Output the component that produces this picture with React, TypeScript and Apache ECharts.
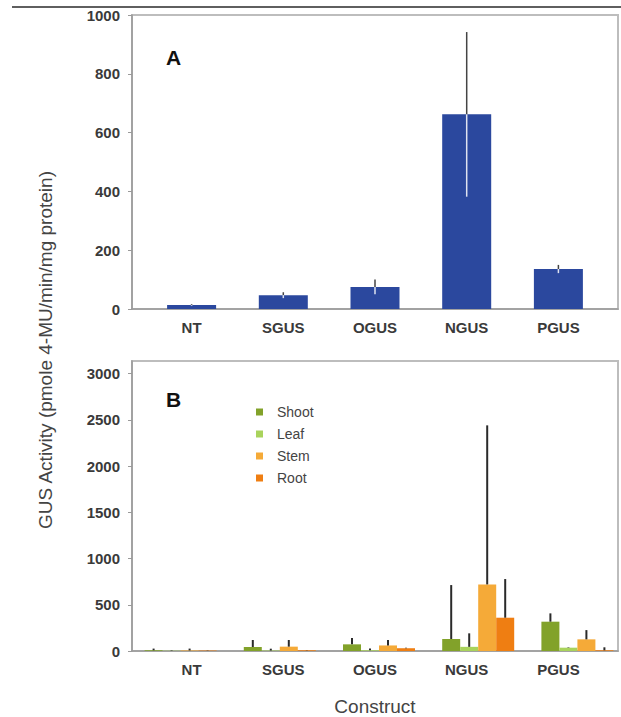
import React, { useEffect, useRef } from "react";
import * as echarts from "echarts";

const categories = ["NT", "SGUS", "OGUS", "NGUS", "PGUS"];
const totalMean = [14, 47, 75, 662, 136];
const totalErr = [3, 10, 25, 280, 14];

const tissues = ["Shoot", "Leaf", "Stem", "Root"];
const tissueColors = ["#82a22a", "#a9d35c", "#f5aa38", "#ef7e12"];
const shootMean = [8, 43, 72, 130, 317];
const shootErr = [18, 76, 68, 583, 90];
const leafMean = [3, 5, 8, 45, 36];
const leafErr = [5, 20, 18, 146, 5];
const stemMean = [6, 47, 60, 720, 126];
const stemErr = [20, 72, 60, 1720, 100];
const rootMean = [5, 8, 30, 360, 8];
const rootErr = [3, 3, 5, 418, 32];

const yTicksA = [0, 200, 400, 600, 800, 1000];
const yTicksB = [0, 500, 1000, 1500, 2000, 2500, 3000];
const catPositions = [0, 1, 2, 3, 4];

const FONT = "'Liberation Sans', Arial, sans-serif";

export default function App() {
  const ref = useRef<HTMLDivElement>(null);
  useEffect(() => {
    if (!ref.current) return;
    const chart = echarts.init(ref.current, null, { renderer: "svg" });
    const means = [shootMean, leafMean, stemMean, rootMean];
    const errs = [shootErr, leafErr, stemErr, rootErr];
    const BAR_B = 18;

    const axisLineStyle = { color: "#9a9a9a", width: 1.5 };
    const tickLabel = { fontSize: 15, fontWeight: "bold" as const, color: "#3a3a3a", fontFamily: FONT };

    const valueX = (gridIndex: number, extra: any = {}) => ({
      type: "value",
      gridIndex,
      min: -0.65,
      max: 4.65,
      axisLine: { show: true, lineStyle: axisLineStyle, onZero: false },
      axisTick: { show: false },
      splitLine: { show: false },
      axisLabel: {
        ...tickLabel,
        margin: 11,
        customValues: catPositions,
        formatter: (v: number) => categories[Math.round(v)] ?? "",
      },
      ...extra,
    });

    const valueY = (gridIndex: number, max: number, ticks: number[]) => ({
      type: "value",
      gridIndex,
      min: 0,
      max,
      axisLine: { show: true, lineStyle: axisLineStyle, onZero: false },
      axisTick: { show: true, length: 4, lineStyle: { color: "#9a9a9a" }, customValues: ticks },
      splitLine: { show: false },
      axisLabel: { ...tickLabel, margin: 12, customValues: ticks, formatter: (v: number) => String(v) },
    });

    const series: any[] = [];
    series.push({
      type: "bar",
      xAxisIndex: 0,
      yAxisIndex: 0,
      barWidth: 49,
      itemStyle: { color: "#2b489e" },
      data: totalMean.map((v, i) => [catPositions[i], v]),
      z: 2,
    });
    series.push({
      type: "custom",
      xAxisIndex: 0,
      yAxisIndex: 0,
      z: 5,
      data: totalMean.map((v, i) => [catPositions[i], v, totalErr[i]]),
      encode: { x: 0, y: 1 },
      renderItem: (params: any, api: any) => {
        const x = api.value(0);
        const m = api.value(1);
        const e = api.value(2);
        const p = api.coord([x, m]);
        const hi = api.coord([x, m + e]);
        const lo = api.coord([x, m - e]);
        return {
          type: "group",
          children: [
            { type: "line", shape: { x1: p[0], y1: hi[1], x2: p[0], y2: p[1] }, style: { stroke: "#444", lineWidth: 1.5 } },
            { type: "line", shape: { x1: p[0], y1: p[1], x2: p[0], y2: lo[1] }, style: { stroke: "#dfe3f0", lineWidth: 1.5 } },
          ],
        };
      },
    });

    tissues.forEach((name, s) => {
      series.push({
        name,
        type: "bar",
        xAxisIndex: 2,
        yAxisIndex: 2,
        barWidth: BAR_B,
        barGap: "0%",
        itemStyle: { color: tissueColors[s] },
        data: means[s],
        z: 2,
      });
    });
    tissues.forEach((name, s) => {
      series.push({
        type: "custom",
        xAxisIndex: 2,
        yAxisIndex: 2,
        z: 5,
        data: means[s].map((v, i) => [i, v, errs[s][i]]),
        encode: { x: 0, y: 1 },
        renderItem: (params: any, api: any) => {
          const x = api.value(0);
          const m = api.value(1);
          const e = api.value(2);
          const p = api.coord([x, m]);
          const hi = api.coord([x, m + e]);
          const px = p[0] + (s - 1.5) * BAR_B;
          return {
            type: "line",
            shape: { x1: px, y1: hi[1], x2: px, y2: p[1] },
            style: { stroke: "#2a2a2a", lineWidth: 2 },
          };
        },
      });
    });

    const gridBase = { outerBoundsMode: "none", containLabel: false };

    chart.setOption({
      animation: false,
      textStyle: { fontFamily: FONT },
      grid: [
        { ...gridBase, left: 132, top: 15, width: 486, height: 294, show: true, borderColor: "#bdbdbd", borderWidth: 2, backgroundColor: "transparent" },
        { ...gridBase, left: 132, top: 361, width: 486, height: 290, show: true, borderColor: "#bdbdbd", borderWidth: 2, backgroundColor: "transparent" },
        { ...gridBase, left: 131, top: 361, width: 496, height: 290 },
      ],
      xAxis: [
        valueX(0),
        valueX(1, {
          name: "Construct",
          nameLocation: "middle",
          nameGap: 46,
          nameTextStyle: { fontSize: 19, color: "#444", fontFamily: FONT },
        }),
        { type: "category", gridIndex: 2, data: categories, show: false },
      ],
      yAxis: [
        valueY(0, 1000, yTicksA),
        valueY(1, 3136, yTicksB),
        { type: "value", gridIndex: 2, min: 0, max: 3136, show: false },
      ],
      legend: {
        data: tissues,
        orient: "vertical",
        left: 256,
        top: 405,
        padding: 0,
        itemWidth: 7,
        itemHeight: 7,
        itemGap: 8,
        icon: "rect",
        selectedMode: false,
        textStyle: { fontSize: 14, color: "#444", fontFamily: FONT, lineHeight: 14, padding: [0, 0, 0, 9] },
      },
      graphic: [
        { type: "line", shape: { x1: 12, y1: 7, x2: 621, y2: 7 }, style: { stroke: "#2a2a2a", lineWidth: 1.5 } },
        { type: "text", left: 166, top: 47, style: { text: "A", fontSize: 21, fontWeight: "bold", fill: "#111", fontFamily: FONT } },
        { type: "text", left: 166, top: 389, style: { text: "B", fontSize: 21, fontWeight: "bold", fill: "#111", fontFamily: FONT } },
        {
          type: "text",
          x: 45,
          y: 350,
          rotation: Math.PI / 2,
          style: {
            text: "GUS Activity (pmole 4-MU/min/mg protein)",
            fontSize: 19,
            fill: "#444",
            fontFamily: FONT,
            align: "center",
            verticalAlign: "middle",
          },
        },
      ],
      series,
    });
    return () => chart.dispose();
  }, []);
  return (
    <div
      ref={ref}
      style={{ position: "fixed", left: 0, top: 0, width: 621, height: 717, background: "#fff" }}
    />
  );
}
